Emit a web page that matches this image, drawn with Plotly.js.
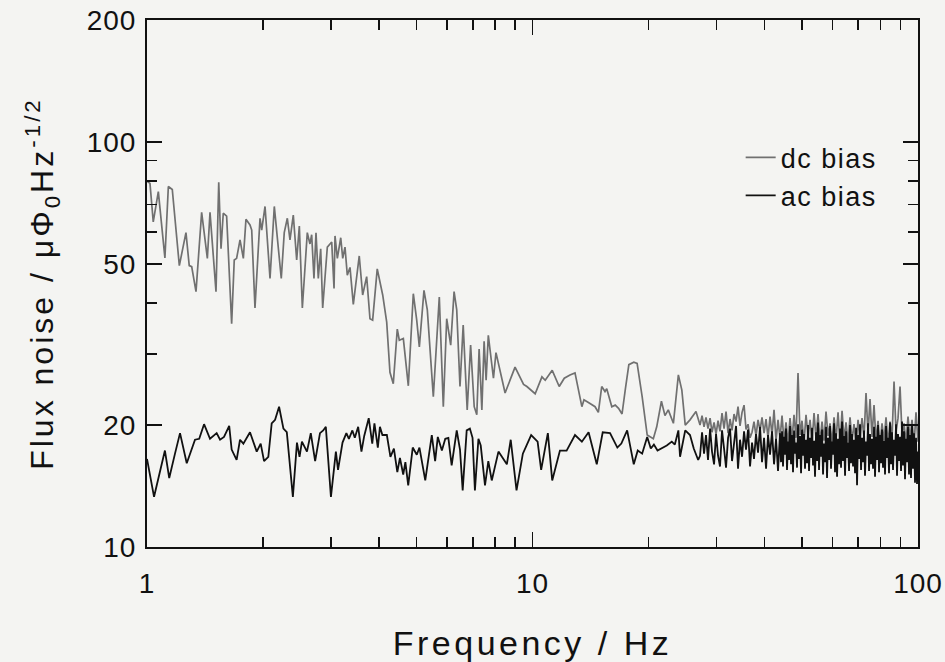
<!DOCTYPE html>
<html>
<head>
<meta charset="utf-8">
<script src="https://cdn.plot.ly/plotly-3.0.1.min.js"></script>
<style>
html,body{margin:0;padding:0;background:#f4f4f2;}
#chart{width:945px;height:662px;}
.xtitle{letter-spacing:3.5px;}
.ytitle{letter-spacing:3px;}
.legendtext{letter-spacing:1.5px;}
#chart .xtick text, #chart .ytick text{letter-spacing:1px;}
</style>
</head>
<body>
<div id="chart"></div>
<script>
// ---- data ----
const dcFreq = [1.00,1.018,1.038,1.070,1.113,1.136,1.163,1.213,1.262,1.287,1.306,1.340,1.386,1.434,1.457,1.510,1.535,1.556,1.577,1.609,1.658,1.684,1.708,1.743,1.778,1.806,1.850,1.869,1.906,1.964,1.984,2.024,2.085,2.139,2.230,2.270,2.312,2.349,2.396,2.445,2.484,2.529,2.605,2.647,2.674,2.711,2.744,2.782,2.822,2.856,2.936,3.014,3.056,3.074,3.117,3.181,3.219,3.263,3.308,3.362,3.429,3.553,3.626,3.714,3.788,3.849,3.956,4.087,4.186,4.268,4.354,4.459,4.513,4.623,4.763,4.907,5.008,5.087,5.230,5.335,5.530,5.731,5.870,5.990,6.135,6.26,6.36,6.485,6.61,6.77,6.91,7.06,7.17,7.27,7.39,7.49,7.58,7.68,7.92,8.04,8.49,9.01,9.48,9.67,10.16,10.58,10.79,11.25,11.73,12.09,12.51,12.89,13.43,13.6,14.1,14.53,14.82,15.12,15.42,15.58,16.06,16.39,16.72,17.07,17.42,17.78,18.31,18.68,19.25,19.84,20.58,21.0,21.6,22.06,22.5,23.2,23.9,24.4,24.9,25.62,26.55,
27.20,27.53,27.86,28.19,28.53,28.88,29.22,29.58,29.93,30.29,30.65,31.02,31.40,31.77,32.16,32.54,32.93,33.33,33.73,34.13,34.54,34.96,35.38,35.80,36.23,36.67,37.11,37.55,38.00,38.46,38.93,39.39,39.87,40.35,40.83,41.32,41.82,42.32,42.83,43.34,43.86,44.39,44.92,45.46,46.01,46.56,47.12,47.69,48.26,48.84,49.43,50.02,50.62,51.23,51.85,52.47,53.10,53.74,54.39,55.04,55.70,56.37,57.05,57.73,58.43,59.13,59.84,60.56,61.29,62.03,62.77,63.53,64.29,65.06,65.85,66.63,67.43,68.24,69.07,69.90,70.73,71.58,72.44,73.31,74.20,75.08,75.99,76.90,77.82,78.76,79.70,80.66,81.63,82.61,83.60,84.61,85.63,86.66,87.70,88.75,89.82,90.90,91.99,93.09,94.21,95.34,96.49,97.65,98.82,100.0];
const dcNoise = [80,79,63.5,75.4,51.7,77.6,76.3,49.5,59.7,49.5,49.2,42.7,67,51.6,67,42.7,79.5,54.5,66.7,65.6,35.6,51.1,51.6,57.3,51.6,64.4,62.4,60.6,38.9,64.8,60.6,69.3,46,69.3,46,59.7,64.8,57.3,66,51.1,62,38.9,59.7,56,59,46,59.7,46,54.5,38.9,55,56.6,43.5,58.6,51.6,58,51.6,55,46.9,49,39.7,52.3,41.9,46.5,36.6,36.3,48.6,41.9,35.9,27,25.3,34.5,32.4,32.7,25,42.2,36.3,31.2,43,38.5,23.5,41.4,22.2,36.6,31.5,42.7,38.5,24.9,35.3,21.8,31.5,22.2,21.2,30.8,21.8,32.2,25.8,33.3,26.1,30.2,24,27.8,25.2,24.9,23.9,26.3,25.8,27.3,24.9,26.1,26.6,26.9,22.2,23.1,22.6,22.2,21.5,24.9,24.2,24.6,22.2,22.4,22,21.3,24.6,28.2,28.6,28.4,23.5,18.9,18.5,19.8,22.9,21.1,21.8,20.2,26.6,24.4,20,20.6,21.6,
20.0,21.1,19.8,20.9,19.6,20.8,19.2,20.3,19.0,20.5,19.3,21.4,19.6,21.6,19.1,20.7,19.4,21.3,20.4,22.2,19.9,21.5,22.4,19.5,20.1,18.6,19.2,20.4,18.8,20.6,19.4,20.9,19.1,20.7,18.6,21.0,18.9,21.8,18.3,20.6,18.5,21.1,18.2,20.3,18.0,20.8,18.4,21.2,18.6,26.9,18.9,20.5,18.1,21.2,18.7,20.6,18.0,21.4,18.5,21.3,18.1,20.4,18.3,21.6,18.8,20.2,18.0,20.9,18.4,21.5,17.9,21.7,18.5,20.3,18.1,20.9,18.3,20.1,17.8,20.6,18.4,20.8,18.6,24.0,19.0,23.2,18.7,22.4,18.2,20.5,17.9,20.2,18.3,20.9,18.0,20.4,18.6,25.6,19.2,20.8,24.9,18.9,20.2,18.1,21.0,18.4,20.6,17.8,21.5,18.2];

const acFreq = [1.00,1.043,1.113,1.142,1.182,1.218,1.268,1.332,1.366,1.406,1.457,1.483,1.516,1.547,1.584,1.634,1.658,1.708,1.743,1.778,1.850,1.926,1.972,2.012,2.064,2.106,2.149,2.201,2.259,2.305,2.390,2.449,2.487,2.523,2.600,2.66,2.73,2.81,2.865,2.91,3.00,3.09,3.13,3.215,3.29,3.34,3.41,3.46,3.53,3.60,3.66,3.76,3.84,3.89,3.97,4.02,4.08,4.19,4.28,4.37,4.46,4.53,4.62,4.68,4.76,4.89,5.01,5.09,5.27,5.48,5.59,5.68,5.82,5.94,6.05,6.17,6.36,6.485,6.59,6.75,6.88,6.99,7.09,7.24,7.34,7.53,7.68,7.84,8.16,8.58,8.78,9.09,9.44,9.92,10.31,10.53,10.96,11.25,11.78,12.26,12.89,13.43,13.98,14.68,15.21,15.89,16.6,17.0,17.6,18.31,18.75,19.25,19.84,20.27,20.65,21.1,21.8,22.3,22.98,23.4,23.9,24.14,24.9,25.62,26.2,26.9,
27.20,27.53,27.86,28.19,28.53,28.88,29.22,29.58,29.93,30.29,30.65,31.02,31.40,31.77,32.16,32.54,32.93,33.33,33.73,34.13,34.54,34.96,35.38,35.80,36.23,36.67,37.11,37.55,38.00,38.46,38.93,39.39,39.87,40.35,40.83,41.32,41.82,42.32,42.83,43.34,43.86,
44.12,44.39,44.65,44.92,45.19,45.46,45.73,46.01,46.29,46.56,46.84,47.12,47.40,47.69,47.98,48.26,48.55,48.84,49.13,49.43,49.73,50.02,50.32,50.62,50.92,51.23,51.54,51.85,52.16,52.47,52.79,53.10,53.42,53.74,54.06,54.39,54.72,55.04,55.37,55.70,56.03,56.37,56.71,57.05,57.39,57.73,58.08,58.43,58.78,59.13,59.48,59.84,60.20,60.56,60.92,61.29,61.66,62.03,62.40,62.77,63.15,63.53,63.91,64.29,64.68,65.06,65.45,65.85,66.24,66.63,67.03,67.43,67.84,68.24,68.65,69.07,69.48,69.90,70.32,70.73,71.16,71.58,72.01,72.44,72.87,73.31,73.75,74.20,74.64,75.08,75.53,75.99,76.44,76.90,77.36,77.82,78.29,78.76,79.23,79.70,80.18,80.66,81.14,81.63,82.12,82.61,83.10,83.60,84.10,84.61,85.12,85.63,86.14,86.66,87.18,87.70,88.22,88.75,89.28,89.82,90.36,90.90,91.44,91.99,92.54,93.09,93.65,94.21,94.78,95.34,95.91,96.49,97.07,97.65,98.23,98.82,99.41,100.0];
const acNoise = [16.5,13.3,17.3,14.8,17,19.1,16.1,18.4,18.5,20.1,18.5,18.8,19.1,18.4,18.7,19.9,17.4,16.4,18.4,18.0,19.2,17.2,18,16.3,16.7,20.2,20.6,22.2,19.6,19.2,13.3,18.1,16.7,18.2,17.2,19.1,16.3,19.1,19.4,19.8,13.3,17.2,15.5,18.1,19.1,18.5,19.4,18.6,19.8,17.2,18.8,20.8,18,20.2,17.6,19.8,18.9,18.9,16.7,17.5,15.3,16.6,15.1,16.2,14.2,17.6,16.9,17.6,14.6,18.9,16.3,18.7,17.3,18.5,18.6,15.9,19.4,17.4,13.8,19.4,19.6,18.6,13.8,18.5,17.8,14.2,16.3,14.6,17.2,16.0,18.4,13.8,17,18.9,18.2,15.5,19.1,14.6,17.3,17.3,18.9,18.2,19.2,16,19.2,19.1,17.6,18.0,19.4,16,17.3,17,18.7,17.5,17.9,17.3,17.6,17.8,18.2,17.9,19.4,16.7,19.4,18.9,17.5,16.4,
16.8,19.2,17.0,18.9,16.4,19.6,17.2,16.0,19.0,16.8,15.8,19.4,17.5,15.7,18.6,19.6,16.3,18.0,19.9,15.6,18.4,16.7,19.3,17.4,19.5,15.8,18.1,16.5,19.0,17.1,19.8,16.2,18.6,15.6,18.9,16.9,19.3,16.0,18.5,15.4,19.1,
16.2,19.3,15.8,18.7,16.9,19.6,15.5,18.2,16.4,19.9,16.0,18.9,15.3,19.4,17.0,18.1,15.7,20.1,16.5,18.8,15.2,19.5,16.8,19.0,15.6,18.4,16.1,20.0,15.4,18.6,16.6,19.7,15.9,18.3,14.9,19.2,16.3,20.3,15.5,18.9,16.7,19.5,15.1,18.0,16.2,19.8,14.8,18.6,16.4,19.9,15.6,18.2,16.9,20.2,15.3,19.1,14.9,18.5,16.0,19.6,15.7,20.4,16.3,18.8,15.0,19.3,16.6,18.1,15.4,20.0,16.1,19.0,15.8,18.4,15.2,19.7,14.2,18.9,16.5,20.1,15.5,18.6,16.2,19.4,15.0,18.2,16.8,20.2,15.4,19.0,16.0,18.5,15.6,19.8,14.9,18.7,16.4,20.0,15.3,18.9,16.1,19.5,15.7,18.3,15.1,19.9,16.6,18.6,15.2,20.3,16.0,19.2,15.5,18.4,16.8,20.1,15.0,19.0,16.3,18.7,15.4,20.4,15.9,19.3,14.7,18.5,16.2,19.8,15.1,18.9,14.8,20.0,15.6,19.1,14.4,18.6,14.3,17.2];

const xTickVals = [1, 10, 100];
const xTickText = ['1', '10', '100'];
const xMinorVals = [2,3,4,5,6,7,8,9,20,30,40,50,60,70,80,90];
const yTickVals = [10, 20, 50, 100, 200];
const yTickText = ['10', '20', '50', '100', '200'];
const yMinorVals = [30,40,60,70,80,90];
const seriesNames = ['dc bias', 'ac bias'];

const FONT = 'Liberation Sans, Arial, Helvetica, sans-serif';

const traces = [
  {x: dcFreq, y: dcNoise, name: seriesNames[0], mode: 'lines',
   line: {color: '#707070', width: 1.7}},
  {x: acFreq, y: acNoise, name: seriesNames[1], mode: 'lines',
   line: {color: '#111111', width: 1.8}}
];

const axisCommon = {
  type: 'log', showgrid: false, zeroline: false,
  showline: true, linecolor: '#111', linewidth: 2, mirror: 'ticks',
  ticks: 'inside', ticklen: 15, tickwidth: 1.6, tickcolor: '#111',
  tickfont: {family: FONT, size: 28, color: '#111'}
};

const layout = {
  width: 945, height: 662,
  margin: {l: 147, r: 27, t: 20, b: 115},
  paper_bgcolor: '#f4f4f2', plot_bgcolor: '#f4f4f2',
  showlegend: true,
  legend: {x: 0.77, y: 0.785, xanchor: 'left', yanchor: 'top',
    bgcolor: 'rgba(0,0,0,0)', font: {family: FONT, size: 27, color: '#111'},
    tracegroupgap: 0},
  xaxis: Object.assign({}, axisCommon, {
    range: [0, 2], tickmode: 'array', tickvals: xTickVals, ticktext: xTickText,
    ticklabelstandoff: 10,
    minor: {tickmode: 'array', tickvals: xMinorVals, ticks: 'inside', ticklen: 10, tickwidth: 1.6, tickcolor: '#111', showgrid: false},
    title: {text: 'Frequency / Hz', font: {family: FONT, size: 34, color: '#111'}, standoff: 34}
  }),
  yaxis: Object.assign({}, axisCommon, {
    range: [1, Math.log10(200)], tickmode: 'array', tickvals: yTickVals, ticktext: yTickText,
    ticklabelstandoff: 3,
    minor: {tickmode: 'array', tickvals: yMinorVals, ticks: 'inside', ticklen: 10, tickwidth: 1.6, tickcolor: '#111', showgrid: false},
    title: {text: 'Flux noise / μΦ<sub>0</sub>Hz<sup>-1/2</sup>', font: {family: FONT, size: 32, color: '#111'}, standoff: 26}
  })
};

Plotly.newPlot('chart', traces, layout, {displayModeBar: false, staticPlot: true});
</script>
</body>
</html>
